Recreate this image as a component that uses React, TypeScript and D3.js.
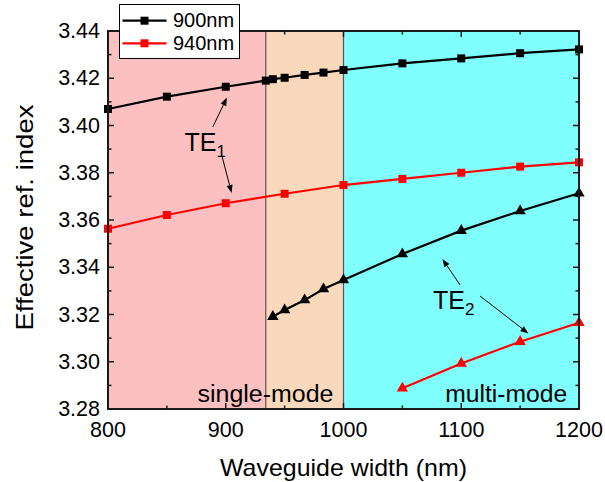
import React from "react";
import * as d3 from "d3";

const xTicks = [800, 900, 1000, 1100, 1200];
const xMinorTicks = [850, 950, 1050, 1150];
const yTicks = [3.28, 3.3, 3.32, 3.34, 3.36, 3.38, 3.4, 3.42, 3.44];
const yMinorTicks = [3.29, 3.31, 3.33, 3.35, 3.37, 3.39, 3.41, 3.43];

const regions = [
  { from: 800, to: 934, color: "#FCC0C0" },
  { from: 934, to: 1000, color: "#F9D8BC" },
  { from: 1000, to: 1200, color: "#80FFFF" },
];
const regionBounds = [934, 1000];

const te1_900_x = [800, 850, 900, 934, 940, 950, 967, 983, 1000, 1050, 1100, 1150, 1200];
const te1_900_y = [3.407, 3.4122, 3.4164, 3.419, 3.4196, 3.4202, 3.4214, 3.4224, 3.4235, 3.4263, 3.4284, 3.4306, 3.4322];

const te1_940_x = [800, 850, 900, 950, 1000, 1050, 1100, 1150, 1200];
const te1_940_y = [3.3563, 3.3621, 3.3671, 3.3711, 3.3748, 3.3774, 3.38, 3.3826, 3.3844];

const te2_900_x = [940, 950, 967, 983, 1000, 1050, 1100, 1150, 1200];
const te2_900_y = [3.3191, 3.3219, 3.3261, 3.3308, 3.3346, 3.3456, 3.3555, 3.3638, 3.3713];

const te2_940_x = [1050, 1100, 1150, 1200];
const te2_940_y = [3.2888, 3.2993, 3.3085, 3.3165];

const legendLabels = ["900nm", "940nm"];

// annotation arrows in data space: [x1, y1, x2, y2]
const arrows = [
  [889, 3.3994, 901, 3.4118],
  [897, 3.3867, 905, 3.3714],
  [1099, 3.3325, 1084, 3.3435],
  [1116, 3.3278, 1157, 3.312],
];

const W = 605;
const H = 482;

export default function App() {
  const x = d3.scaleLinear().domain([800, 1200]).range([108, 579]);
  const y = d3.scaleLinear().domain([3.28, 3.44]).range([409, 31]);
  const line = d3
    .line<[number, number]>()
    .x((d) => x(d[0]))
    .y((d) => y(d[1]));
  const zip = (xs: number[], ys: number[]) => xs.map((v, i) => [v, ys[i]] as [number, number]);
  const sq = d3.symbol(d3.symbolSquare, 64)()!;
  const tri = d3.symbol(d3.symbolTriangle, 56)()!;

  const series = [
    { data: zip(te1_900_x, te1_900_y), color: "#000", sym: sq },
    { data: zip(te1_940_x, te1_940_y), color: "#FF0000", sym: sq },
    { data: zip(te2_900_x, te2_900_y), color: "#000", sym: tri },
    { data: zip(te2_940_x, te2_940_y), color: "#FF0000", sym: tri },
  ];

  const x0 = x.range()[0], x1 = x.range()[1];
  const y0 = y.range()[1], y1 = y.range()[0];
  const font = "'Liberation Sans', Arial, sans-serif";
  const axisColor = "#1a1a1a";

  const arrowHead = (ax1: number, ay1: number, ax2: number, ay2: number) => {
    const px1 = x(ax1), py1 = y(ay1), px2 = x(ax2), py2 = y(ay2);
    const ang = Math.atan2(py2 - py1, px2 - px1);
    const L = 8, Wd = 3;
    const bx = px2 - L * Math.cos(ang), by = py2 - L * Math.sin(ang);
    const p1 = [bx + Wd * Math.sin(ang), by - Wd * Math.cos(ang)];
    const p2 = [bx - Wd * Math.sin(ang), by + Wd * Math.cos(ang)];
    return (
      <g>
        <line x1={px1} y1={py1} x2={bx} y2={by} stroke="#000" strokeWidth={1} />
        <polygon points={`${px2},${py2} ${p1[0]},${p1[1]} ${p2[0]},${p2[1]}`} fill="#000" />
      </g>
    );
  };

  return (
    <svg width={W} height={H} style={{ position: "absolute", left: 0, top: 0, background: "#fff" }} fontFamily={font}>
      {regions.map((r, i) => (
        <rect key={i} x={x(r.from)} y={y0} width={x(r.to) - x(r.from)} height={y1 - y0} fill={r.color} />
      ))}
      {regionBounds.map((b, i) => (
        <line key={i} x1={x(b)} x2={x(b)} y1={y0} y2={y1} stroke="#555" strokeWidth={1.2} />
      ))}

      {series.map((s, i) => (
        <g key={i}>
          <path d={line(s.data)!} fill="none" stroke={s.color} strokeWidth={2.2} />
          {s.data.map((d, j) => (
            <path key={j} d={s.sym} transform={`translate(${x(d[0])},${y(d[1])})`} fill={s.color} />
          ))}
        </g>
      ))}

      {arrows.map((a, i) => (
        <g key={i}>{arrowHead(a[0], a[1], a[2], a[3])}</g>
      ))}

      <text x={x(865)} y={y(3.3892)} fontSize={25} fill="#000">
        TE<tspan fontSize={17} dy={6}>1</tspan>
      </text>
      <text x={x(1076)} y={y(3.3222)} fontSize={25} fill="#000">
        TE<tspan fontSize={17} dy={6}>2</tspan>
      </text>

      <text x={x(876)} y={y(3.2829)} fontSize={23} fill="#000" textLength={136} lengthAdjust="spacingAndGlyphs">
        single-mode
      </text>
      <text x={x(1190)} y={y(3.2829)} fontSize={23} fill="#000" textAnchor="end" textLength={122} lengthAdjust="spacingAndGlyphs">
        multi-mode
      </text>

      {/* frame */}
      <rect x={x0} y={y0} width={x1 - x0} height={y1 - y0} fill="none" stroke={axisColor} strokeWidth={2} />

      {/* ticks */}
      {xTicks.map((t) => (
        <g key={"xt" + t}>
          <line x1={x(t)} x2={x(t)} y1={y1} y2={y1 - 6} stroke={axisColor} strokeWidth={1.5} />
          <line x1={x(t)} x2={x(t)} y1={y0} y2={y0 + 6} stroke={axisColor} strokeWidth={1.5} />
          <text x={x(t)} y={437} fontSize={21.5} textAnchor="middle" fill="#000">
            {t}
          </text>
        </g>
      ))}
      {xMinorTicks.map((t) => (
        <g key={"xm" + t}>
          <line x1={x(t)} x2={x(t)} y1={y1} y2={y1 - 3.5} stroke={axisColor} strokeWidth={1.5} />
          <line x1={x(t)} x2={x(t)} y1={y0} y2={y0 + 3.5} stroke={axisColor} strokeWidth={1.5} />
        </g>
      ))}
      {yTicks.map((t) => (
        <g key={"yt" + t}>
          <line x1={x0} x2={x0 + 6} y1={y(t)} y2={y(t)} stroke={axisColor} strokeWidth={1.5} />
          <line x1={x1} x2={x1 - 6} y1={y(t)} y2={y(t)} stroke={axisColor} strokeWidth={1.5} />
          <text x={100} y={y(t) + 7} fontSize={21.5} textAnchor="end" fill="#000">
            {t.toFixed(2)}
          </text>
        </g>
      ))}
      {yMinorTicks.map((t) => (
        <g key={"ym" + t}>
          <line x1={x0} x2={x0 + 3.5} y1={y(t)} y2={y(t)} stroke={axisColor} strokeWidth={1.5} />
          <line x1={x1} x2={x1 - 3.5} y1={y(t)} y2={y(t)} stroke={axisColor} strokeWidth={1.5} />
        </g>
      ))}

      {/* axis titles */}
      <text x={343.5} y={476} fontSize={24} textAnchor="middle" fill="#000" textLength={247} lengthAdjust="spacingAndGlyphs">
        Waveguide width (nm)
      </text>
      <text
        transform={`translate(33,217.5) rotate(-90)`}
        fontSize={24}
        textAnchor="middle"
        fill="#000"
        textLength={226}
        lengthAdjust="spacingAndGlyphs"
      >
        Effective ref. index
      </text>

      {/* legend */}
      <rect x={119.5} y={4.5} width={120} height={54} fill="#fff" stroke="#000" strokeWidth={1} />
      {legendLabels.map((lab, i) => {
        const ly = 20.7 + i * 22.6;
        const col = i === 0 ? "#000" : "#FF0000";
        return (
          <g key={lab}>
            <line x1={122.5} x2={166.5} y1={ly} y2={ly} stroke={col} strokeWidth={2.2} />
            <path d={sq} transform={`translate(144.5,${ly})`} fill={col} />
            <text x={173} y={ly + 6.5} fontSize={20} fill="#000">
              {lab}
            </text>
          </g>
        );
      })}
    </svg>
  );
}
